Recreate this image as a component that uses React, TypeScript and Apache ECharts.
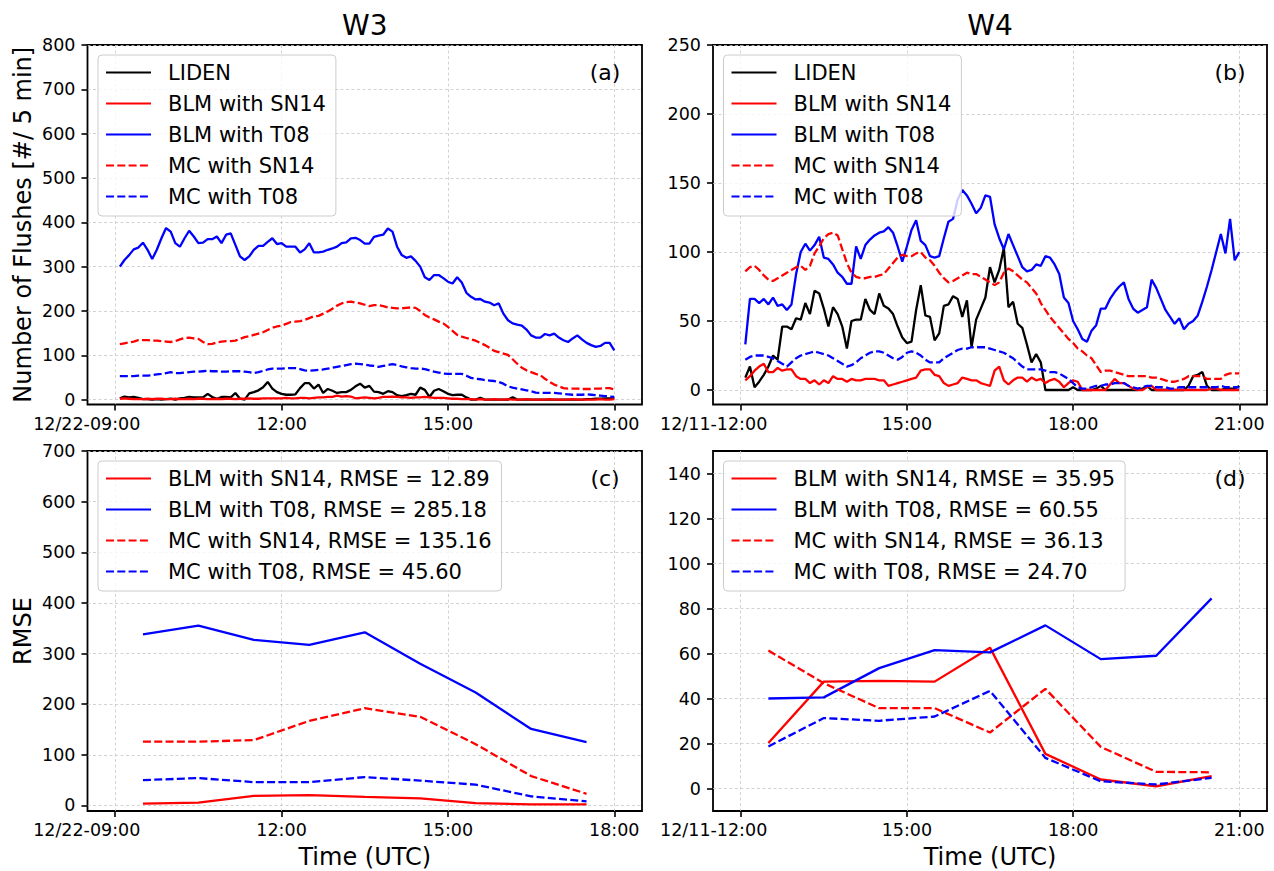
import React, { useEffect, useRef } from "react";
import * as echarts from "echarts";

const FONT = "DejaVu Sans";

// ---- W3 (12/22), 5-minute counts starting 09:05 ----
const W3_DATE = "12/22";
const W3_START_HOUR = 9 + 5 / 60;
const W3_LIDEN = [
  3, 7, 5, 6, 4, 1, 1, 0, 1, 0,
  1, 2, 0, 3, 4, 6, 5, 5, 5, 13,
  6, 2, 6, 6, 5, 15, 2, 0, 14, 17,
  21, 28, 40, 25, 17, 13, 11, 11, 12, 26,
  37, 37, 25, 34, 15, 24, 20, 15, 17,
  17, 22, 30, 36, 27, 31, 18, 17, 13, 19, 17,
  10, 8, 10, 13, 11, 27, 22, 6, 20, 24,
  19, 13, 10, 11, 11, 5, 0, 0, 4, 0,
  0, 0, 0, 0, 0, 5, 0, 0, 0, 0,
  0, 0, 0, 0, 0, 0, 0, 0, 0, 0,
  0, 1, 1, 2, 2, 3, 3, 4,
];
const W3_BLM_SN14 = [
  2, 3, 2, 1, 1, 1, 2, 1, 2, 2,
  1, 1, 2, 1, 1, 2, 1, 2, 2, 1,
  1, 2, 1, 2, 2, 1, 2, 2, 3, 2,
  2, 3, 3, 3, 3, 3, 4, 3, 3, 4,
  4, 3, 4, 5, 5, 6, 6, 9, 7,
  8, 7, 3, 4, 5, 4, 3, 4, 6, 6, 7,
  6, 5, 5, 4, 5, 5, 6, 5, 4, 4,
  4, 3, 2, 2, 1, 1, 1, 0, 1, 0,
  0, 1, 0, 0, 1, 0, 0, 0, 1, 0,
  0, 0, 0, 1, 0, 0, 0, 0, 1, 0,
  0, 0, 0, 0, 1, 0, 0, 1,
];
const W3_BLM_T08 = [
  300, 315, 326, 339, 343, 354, 338, 317, 338, 364,
  387, 379, 353, 345, 364, 381, 368, 353, 354, 362,
  362, 368, 353, 372, 375, 349, 323, 315, 323, 338,
  347, 347, 356, 364, 351, 353, 345, 345, 345, 332,
  339, 353, 332, 332, 334, 338, 341, 345, 353,
  355, 364, 365, 360, 352, 352, 367, 370, 372, 386, 379,
  345, 326, 320, 323, 313, 300, 276, 270, 281, 281,
  274, 266, 262, 276, 264, 241, 232, 226, 227, 221,
  219, 213, 217, 194, 179, 172, 169, 167, 158, 145,
  140, 140, 148, 145, 149, 140, 134, 130, 138, 145,
  136, 128, 123, 119, 121, 128, 128, 111,
];
const W3_MC_SN14 = [
  125, 127, 129, 131, 134, 134, 134, 133, 133, 132,
  131, 130, 132, 136, 139, 140, 138, 137, 130, 125,
  126, 129, 131, 132, 132, 133, 137, 141, 143, 146,
  149, 152, 157, 162, 165, 167, 171, 175, 176, 177,
  180, 184, 188, 189, 194, 199, 205, 212, 217,
  220, 221, 219, 217, 214, 211, 213, 213, 211, 208, 207,
  206, 206, 207, 208, 207, 200, 191, 185, 181, 176,
  172, 164, 155, 146, 142, 139, 136, 133, 128, 123,
  117, 110, 107, 104, 101, 91, 81, 72, 66, 62,
  58, 55, 47, 40, 34, 30, 26, 25, 25, 25,
  24, 24, 24, 25, 25, 26, 26, 23,
];
const W3_MC_T08 = [
  53, 53, 53, 53, 54, 54, 54, 55, 57, 58,
  60, 62, 60, 60, 61, 62, 63, 63, 64, 65,
  64, 64, 63, 63, 64, 64, 64, 63, 62, 60,
  62, 65, 68, 70, 70, 70, 71, 71, 71, 69,
  66, 65, 66, 67, 68, 70, 72, 74, 76,
  78, 80, 81, 80, 79, 77, 76, 74, 76, 78, 80,
  78, 75, 73, 71, 70, 70, 69, 66, 63, 61,
  59, 58, 58, 58, 58, 54, 49, 47, 46, 44,
  43, 42, 40, 36, 30, 27, 25, 23, 21, 19,
  16, 15, 15, 15, 15, 14, 13, 12, 11, 11,
  11, 12, 11, 10, 9, 8, 7, 6,
];

// ---- W4 (12/11), 5-minute counts starting 12:05 ----
const W4_DATE = "12/11";
const W4_START_HOUR = 12 + 5 / 60;
const W4_LIDEN = [
  9, 17, 2, 6, 11, 17, 25, 22, 46, 46,
  44, 52, 51, 63, 55, 72, 70, 59, 46, 60,
  55, 46, 30, 50, 51, 51, 66, 58, 55, 70,
  61, 59, 55, 46, 38, 34, 35, 58, 76, 54,
  53, 36, 41, 61, 62, 68, 66, 53, 65,
  31, 51, 59, 67, 89, 78, 87, 103, 60, 64, 48,
  45, 33, 20, 26, 20, 0, 0, 0, 0, 0,
  0, 2, 0, 0, 0, 0, 1, 3, 0, 0,
  0, 0, 0, 0, 0, 0, 1, 3, 0, 0,
  0, 0, 0, 0, 0, 0, 3, 10, 11, 13,
  3, 0, 0, 0, 1, 1, 1, 3,
];
const W4_BLM_SN14 = [
  7, 10, 14, 17, 19, 13, 13, 16, 14, 15,
  15, 10, 8, 8, 5, 7, 4, 7, 5, 10,
  8, 8, 6, 8, 7, 7, 8, 8, 8, 7,
  7, 3, 4, 5, 6, 7, 8, 9, 14, 15,
  15, 11, 10, 5, 3, 4, 5, 9, 8,
  7, 7, 5, 4, 3, 14, 17, 7, 4, 7, 9,
  9, 6, 9, 7, 8, 5, 7, 8, 6, 2,
  5, 7, 6, 0, 0, 0, 0, 0, 0, 4,
  8, 5, 5, 3, 1, 0, 0, 2, 3, 0,
  0, 0, 0, 0, 0, 0, 0, 0, 0, 0,
  0, 1, 1, 0, 0, 0, 0, 0,
];
const W4_BLM_T08 = [
  33, 66, 66, 63, 66, 62, 67, 61, 62, 58,
  62, 84, 100, 106, 101, 105, 111, 96, 95, 91,
  85, 82, 77, 77, 104, 95, 105, 109, 112, 114,
  115, 118, 114, 104, 93, 104, 116, 123, 108, 105,
  97, 96, 97, 110, 122, 124, 138, 145, 141,
  135, 128, 132, 141, 140, 120, 110, 102, 113, 105, 97,
  89, 86, 87, 91, 90, 97, 96, 91, 84, 67,
  63, 50, 44, 37, 35, 43, 47, 59, 59, 66,
  71, 75, 78, 66, 59, 56, 58, 60, 80, 74,
  66, 58, 53, 48, 52, 44, 48, 50, 54, 64,
  75, 87, 100, 113, 99, 124, 94, 100,
];
const W4_MC_SN14 = [
  86, 89, 90, 87, 83, 80, 79, 81, 83, 85,
  87, 89, 90, 87, 90, 99, 104, 110, 113, 114,
  112, 102, 92, 85, 82, 81, 81, 82, 82, 83,
  84, 88, 92, 96, 98, 97, 97, 99, 100, 96,
  94, 90, 85, 81, 78, 79, 81, 83, 85,
  84, 84, 82, 80, 78, 76, 78, 85, 88, 86, 83,
  80, 78, 74, 70, 63, 58, 53, 49, 45, 41,
  37, 34, 30, 28, 25, 23, 18, 13, 14, 14,
  13, 12, 11, 10, 10, 10, 10, 10, 9, 9,
  8, 7, 6, 6, 7, 8, 10, 10, 10, 10,
  8, 8, 8, 8, 11, 12, 12, 12,
];
const W4_MC_T08 = [
  22, 24, 25, 25, 25, 24, 23, 21, 19, 17,
  20, 23, 25, 26, 27, 28, 27, 26, 25, 23,
  21, 19, 17, 18, 20, 23, 25, 27, 28, 28,
  27, 25, 23, 22, 24, 27, 28, 27, 25, 22,
  20, 20, 20, 23, 25, 27, 29, 30, 30,
  31, 31, 31, 31, 30, 29, 28, 27, 25, 23, 20,
  17, 15, 15, 15, 15, 14, 13, 13, 12, 10,
  8, 5, 2, 1, 1, 2, 3, 3, 4, 4,
  5, 5, 5, 3, 2, 1, 2, 3, 3, 2,
  2, 2, 1, 1, 2, 2, 2, 2, 2, 2,
  2, 2, 2, 3, 2, 2, 2, 2,
];

// ---- hourly RMSE ----
const W3_RMSE_HOURS = [9.5, 10.5, 11.5, 12.5, 13.5, 14.5, 15.5, 16.5, 17.5];
const W3_RMSE_BLM_SN14 = [3.5, 5.5, 19, 20.5, 17, 14, 4.5, 2, 2];
const W3_RMSE_BLM_T08 = [338, 355, 327, 317, 342, 280, 223, 151, 125];
const W3_RMSE_MC_SN14 = [126, 126, 129, 167, 192, 175, 121, 58, 23];
const W3_RMSE_MC_T08 = [50, 54, 46, 46, 56, 49, 41, 18, 8];

const W4_RMSE_HOURS = [12.5, 13.5, 14.5, 15.5, 16.5, 17.5, 18.5, 19.5, 20.5];
const W4_RMSE_BLM_SN14 = [20.2, 47.5, 47.8, 47.5, 62.6, 15.4, 4, 1, 5.5];
const W4_RMSE_BLM_T08 = [40, 40.5, 53.5, 61.5, 60.5, 72.5, 57.5, 59, 84.5];
const W4_RMSE_MC_SN14 = [61.3, 46.8, 35.7, 35.7, 24.9, 44.3, 18.5, 7.4, 7.2];
const W4_RMSE_MC_T08 = [18.7, 31.3, 30.1, 32, 43.4, 13.6, 3.2, 1.8, 4.7];

const W3_LEGEND_RMSE = [
  "BLM with SN14, RMSE = 12.89",
  "BLM with T08, RMSE = 285.18",
  "MC with SN14, RMSE = 135.16",
  "MC with T08, RMSE = 45.60",
];
const W4_LEGEND_RMSE = [
  "BLM with SN14, RMSE = 35.95",
  "BLM with T08, RMSE = 60.55",
  "MC with SN14, RMSE = 36.13",
  "MC with T08, RMSE = 24.70",
];
const COUNT_NAMES = ["LIDEN", "BLM with SN14", "BLM with T08", "MC with SN14", "MC with T08"];

const W3_TICK_HOURS = [9, 12, 15, 18];
const W4_TICK_HOURS = [12, 15, 18, 21];
const Y_TICKS_A = [0, 100, 200, 300, 400, 500, 600, 700, 800];
const Y_TICKS_B = [0, 50, 100, 150, 200, 250];
const Y_TICKS_C = [0, 100, 200, 300, 400, 500, 600, 700];
const Y_TICKS_D = [0, 20, 40, 60, 80, 100, 120, 140];

const BLACK = "#000000";
const RED = "#ff0000";
const BLUE = "#0000ff";
const DASH = [8, 3.3];

const timed = (vals: number[], start: number) =>
  vals.map((v, i) => [start + (i * 5) / 60, v]);
const paired = (xs: number[], ys: number[]) => xs.map((x, i) => [x, ys[i]]);

const lineSeries = (name: string, data: number[][], color: string, dashed: boolean, idx: number) => ({
  type: "line",
  name,
  data,
  xAxisIndex: idx,
  yAxisIndex: idx,
  symbol: "none",
  showSymbol: false,
  silent: true,
  animation: false,
  emphasis: { disabled: true },
  lineStyle: { color, width: 2.3, type: dashed ? DASH : "solid" },
  itemStyle: { color },
});

const tickLabelStyle = { fontSize: 17.5, fontFamily: FONT, color: "#000" };
const gridLine = { show: true, lineStyle: { color: "#c8c8c8", width: 0.8, type: [3, 2.5] } };
const tickStyle = { show: true, length: 6, lineStyle: { color: "#000", width: 1.6 } };

const hh = (h: number) => (h < 10 ? "0" : "") + h + ":00";

const makeX = (idx: number, min: number, max: number, ticks: number[], date: string, shift: number, withName: boolean) => ({
  type: "value",
  gridIndex: idx,
  min,
  max,
  axisLine: { show: false, onZero: false },
  axisTick: { ...tickStyle, customValues: ticks },
  axisLabel: {
    ...tickLabelStyle,
    customValues: ticks,
    margin: 10,
    formatter: (v: number) => {
      const h = Math.round(v);
      return h === ticks[0] ? `{first|${date}-${hh(h)}}` : hh(h);
    },
    rich: { first: { ...tickLabelStyle, padding: [0, shift, 0, 0] } },
  },
  splitLine: gridLine,
  name: withName ? "Time (UTC)" : "",
  nameLocation: "middle",
  nameGap: 34,
  nameMoveOverlap: false,
  nameTextStyle: { fontSize: 24, fontFamily: FONT, color: "#000" },
});

const makeY = (idx: number, min: number, max: number, ticks: number[], name: string) => ({
  type: "value",
  gridIndex: idx,
  min,
  max,
  axisLine: { show: false, onZero: false },
  axisTick: { ...tickStyle, customValues: ticks },
  axisLabel: { ...tickLabelStyle, customValues: ticks, margin: 12 },
  splitLine: gridLine,
  name,
  nameLocation: "middle",
  nameGap: 53,
  nameMoveOverlap: false,
  nameTextStyle: { fontSize: 24, fontFamily: FONT, color: "#000" },
});

const makeLegend = (left: number, top: number, names: string[]) => ({
  left,
  top,
  orient: "vertical",
  data: names,
  selectedMode: false,
  itemWidth: 45,
  itemHeight: 14,
  itemGap: 10,
  padding: [7, 10, 9, 7],
  backgroundColor: "rgba(255,255,255,0.8)",
  borderColor: "#cccccc",
  borderWidth: 1,
  borderRadius: 4,
  itemStyle: { color: "rgba(0,0,0,0)", borderColor: "rgba(0,0,0,0)", borderWidth: 0 },
  textStyle: { fontSize: 21, lineHeight: 21, fontFamily: FONT, color: "#000", padding: [0, 0, 0, 12] },
});

const panelText = (x: number, y: number, text: string, size: number) => ({
  type: "text",
  x,
  y,
  silent: true,
  style: { text, fontSize: size, fontFamily: FONT, fill: "#000", align: "center", verticalAlign: "middle" },
});

const grid = (left: number, top: number, width: number, height: number) => ({
  left,
  top,
  width,
  height,
  show: true,
  borderColor: "#000",
  borderWidth: 1.8,
  backgroundColor: "transparent",
  containLabel: false,
  outerBoundsMode: "none",
});

export default function App() {
  const ref = useRef<HTMLDivElement>(null);

  useEffect(() => {
    if (!ref.current) return;
    const chart = echarts.init(ref.current, undefined, { renderer: "svg" });

    const series = [
      lineSeries("LIDEN", timed(W3_LIDEN, W3_START_HOUR), BLACK, false, 0),
      lineSeries("BLM with SN14", timed(W3_BLM_SN14, W3_START_HOUR), RED, false, 0),
      lineSeries("BLM with T08", timed(W3_BLM_T08, W3_START_HOUR), BLUE, false, 0),
      lineSeries("MC with SN14", timed(W3_MC_SN14, W3_START_HOUR), RED, true, 0),
      lineSeries("MC with T08", timed(W3_MC_T08, W3_START_HOUR), BLUE, true, 0),

      lineSeries("LIDEN", timed(W4_LIDEN, W4_START_HOUR), BLACK, false, 1),
      lineSeries("BLM with SN14", timed(W4_BLM_SN14, W4_START_HOUR), RED, false, 1),
      lineSeries("BLM with T08", timed(W4_BLM_T08, W4_START_HOUR), BLUE, false, 1),
      lineSeries("MC with SN14", timed(W4_MC_SN14, W4_START_HOUR), RED, true, 1),
      lineSeries("MC with T08", timed(W4_MC_T08, W4_START_HOUR), BLUE, true, 1),

      lineSeries(W3_LEGEND_RMSE[0], paired(W3_RMSE_HOURS, W3_RMSE_BLM_SN14), RED, false, 2),
      lineSeries(W3_LEGEND_RMSE[1], paired(W3_RMSE_HOURS, W3_RMSE_BLM_T08), BLUE, false, 2),
      lineSeries(W3_LEGEND_RMSE[2], paired(W3_RMSE_HOURS, W3_RMSE_MC_SN14), RED, true, 2),
      lineSeries(W3_LEGEND_RMSE[3], paired(W3_RMSE_HOURS, W3_RMSE_MC_T08), BLUE, true, 2),

      lineSeries(W4_LEGEND_RMSE[0], paired(W4_RMSE_HOURS, W4_RMSE_BLM_SN14), RED, false, 3),
      lineSeries(W4_LEGEND_RMSE[1], paired(W4_RMSE_HOURS, W4_RMSE_BLM_T08), BLUE, false, 3),
      lineSeries(W4_LEGEND_RMSE[2], paired(W4_RMSE_HOURS, W4_RMSE_MC_SN14), RED, true, 3),
      lineSeries(W4_LEGEND_RMSE[3], paired(W4_RMSE_HOURS, W4_RMSE_MC_T08), BLUE, true, 3),
    ];

    chart.setOption({
      animation: false,
      backgroundColor: "#ffffff",
      textStyle: { fontFamily: FONT },
      grid: [
        grid(87.5, 45, 554.5, 359.5),
        grid(713, 45, 554, 359.5),
        grid(87.5, 451, 554.5, 360),
        grid(713, 451, 554, 360),
      ],
      xAxis: [
        makeX(0, 8.5, 18.5, W3_TICK_HOURS, W3_DATE, 57, false),
        makeX(1, 11.5, 21.5, W4_TICK_HOURS, W4_DATE, 54, false),
        makeX(2, 8.5, 18.5, W3_TICK_HOURS, W3_DATE, 57, true),
        makeX(3, 11.5, 21.5, W4_TICK_HOURS, W4_DATE, 54, true),
      ],
      yAxis: [
        makeY(0, -11, 800, Y_TICKS_A, "Number of Flushes [#/ 5 min]"),
        makeY(1, -10.5, 250, Y_TICKS_B, ""),
        makeY(2, -11, 700, Y_TICKS_C, "RMSE"),
        makeY(3, -10, 150, Y_TICKS_D, ""),
      ],
      legend: [
        makeLegend(98, 55, COUNT_NAMES),
        makeLegend(723.5, 55, COUNT_NAMES),
        makeLegend(98, 461, W3_LEGEND_RMSE),
        makeLegend(723.5, 461, W4_LEGEND_RMSE),
      ],
      graphic: [
        panelText(364.75, 25, "W3", 28),
        panelText(990, 25, "W4", 28),
        panelText(605, 72, "(a)", 22),
        panelText(1230, 72, "(b)", 22),
        panelText(605, 478, "(c)", 22),
        panelText(1230, 478, "(d)", 22),
      ],
      series,
    });

    return () => chart.dispose();
  }, []);

  return (
    <div
      ref={ref}
      style={{ position: "absolute", left: 0, top: 0, width: 1274, height: 871, background: "#fff" }}
    />
  );
}
